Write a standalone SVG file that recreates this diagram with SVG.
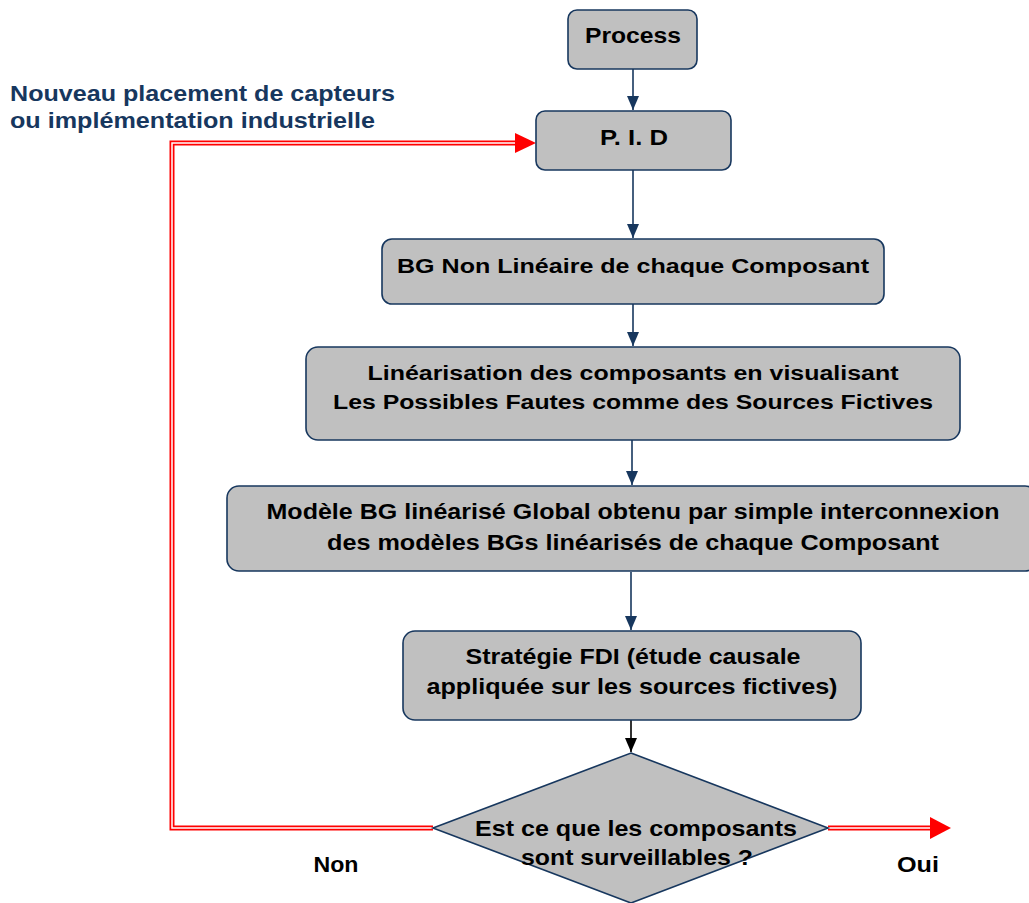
<svg xmlns="http://www.w3.org/2000/svg" width="1029" height="903" viewBox="0 0 1029 903">
<defs>
<style>
.box{fill:#C0C0C0;stroke:#17375E;stroke-width:1.6}
.t{font-family:"Liberation Sans",Arial,sans-serif;font-weight:bold;font-size:20px;fill:#000;text-anchor:middle}
.n{font-size:22px}
.lbl{font-family:"Liberation Sans",Arial,sans-serif;font-weight:bold;font-size:22px;fill:#17375E}
.conn{stroke:#17375E;stroke-width:1.6;fill:none}
.red{stroke:#FF0000;stroke-width:5;fill:none}
.white{stroke:#FFFFFF;stroke-width:1.5;fill:none}
</style>
<marker id="ah" markerWidth="14" markerHeight="12" refX="14" refY="6" orient="auto" markerUnits="userSpaceOnUse"><path d="M0,0 L14,6 L0,12 Z" fill="#17375E"/></marker>
<marker id="ahk" markerWidth="14" markerHeight="12" refX="14" refY="6" orient="auto" markerUnits="userSpaceOnUse"><path d="M0,0 L14,6 L0,12 Z" fill="#000"/></marker>
</defs>
<rect width="1029" height="903" fill="#FFFFFF"/>

<g id="connectors">
<line class="conn" x1="633" y1="69" x2="633" y2="110" marker-end="url(#ah)"/>
<line class="conn" x1="633" y1="170" x2="633" y2="238" marker-end="url(#ah)"/>
<line class="conn" x1="633" y1="304" x2="633" y2="346" marker-end="url(#ah)"/>
<line class="conn" x1="632" y1="440" x2="632" y2="485" marker-end="url(#ah)"/>
<line class="conn" x1="631" y1="572" x2="631" y2="630" marker-end="url(#ah)"/>
<line x1="631" y1="720" x2="631" y2="752" stroke="#000" stroke-width="1.6" marker-end="url(#ahk)"/>
<path class="red" d="M433,828 L172,828 L172,143 L517,143"/>
<path class="white" d="M433,828 L172,828 L172,143 L517,143"/>
<path d="M515,133 L536,143 L515,153 Z" fill="#FF0000"/>
<path class="red" d="M828,828 L932,828"/>
<path class="white" d="M828,828 L932,828"/>
<path d="M930,817 L951,828 L930,839 Z" fill="#FF0000"/>
</g>

<g id="process">
<rect class="box" x="568" y="10" width="129" height="59" rx="9"/>
<text class="t n" x="633" y="43" textLength="96" lengthAdjust="spacingAndGlyphs">Process</text>
</g>
<g id="pid">
<rect class="box" x="536" y="111" width="195" height="59" rx="9"/>
<text class="t n" x="634" y="145" textLength="68" lengthAdjust="spacingAndGlyphs">P. I. D</text>
</g>
<g id="bg">
<rect class="box" x="382" y="239" width="502" height="65" rx="10"/>
<text class="t" x="633" y="273" textLength="472" lengthAdjust="spacingAndGlyphs">BG Non Linéaire de chaque Composant</text>
</g>
<g id="linearisation">
<rect class="box" x="306" y="347" width="654" height="93" rx="12"/>
<text class="t" x="633" y="380" textLength="531" lengthAdjust="spacingAndGlyphs">Linéarisation des composants en visualisant</text>
<text class="t" x="633" y="409" textLength="600" lengthAdjust="spacingAndGlyphs">Les Possibles Fautes comme des Sources Fictives</text>
</g>
<g id="modele">
<rect class="box" x="227" y="486" width="810" height="85" rx="12"/>
<text class="t n" x="633" y="519" textLength="733" lengthAdjust="spacingAndGlyphs">Modèle BG linéarisé Global obtenu par simple interconnexion</text>
<text class="t n" x="633" y="550" textLength="612" lengthAdjust="spacingAndGlyphs">des modèles BGs linéarisés de chaque Composant</text>
</g>
<g id="strategie">
<rect class="box" x="403" y="631" width="458" height="89" rx="12"/>
<text class="t n" x="633" y="664" textLength="335" lengthAdjust="spacingAndGlyphs">Stratégie FDI (étude causale</text>
<text class="t n" x="632" y="694" textLength="411" lengthAdjust="spacingAndGlyphs">appliquée sur les sources fictives)</text>
</g>
<g id="decision">
<path class="box" d="M631,753 L828,828 L631,903 L433,828 Z"/>
<text class="t n" x="636" y="836" textLength="322" lengthAdjust="spacingAndGlyphs">Est ce que les composants</text>
<text class="t n" x="637" y="865" textLength="232" lengthAdjust="spacingAndGlyphs">sont surveillables ?</text>
</g>
<g id="labels">
<text class="lbl" x="10" y="101" textLength="385" lengthAdjust="spacingAndGlyphs">Nouveau placement de capteurs</text>
<text class="lbl" x="10" y="128" textLength="365" lengthAdjust="spacingAndGlyphs">ou implémentation industrielle</text>
<text class="t n" x="336" y="872" textLength="45" lengthAdjust="spacingAndGlyphs">Non</text>
<text class="t n" x="918" y="872" textLength="42" lengthAdjust="spacingAndGlyphs">Oui</text>
</g>
</svg>
